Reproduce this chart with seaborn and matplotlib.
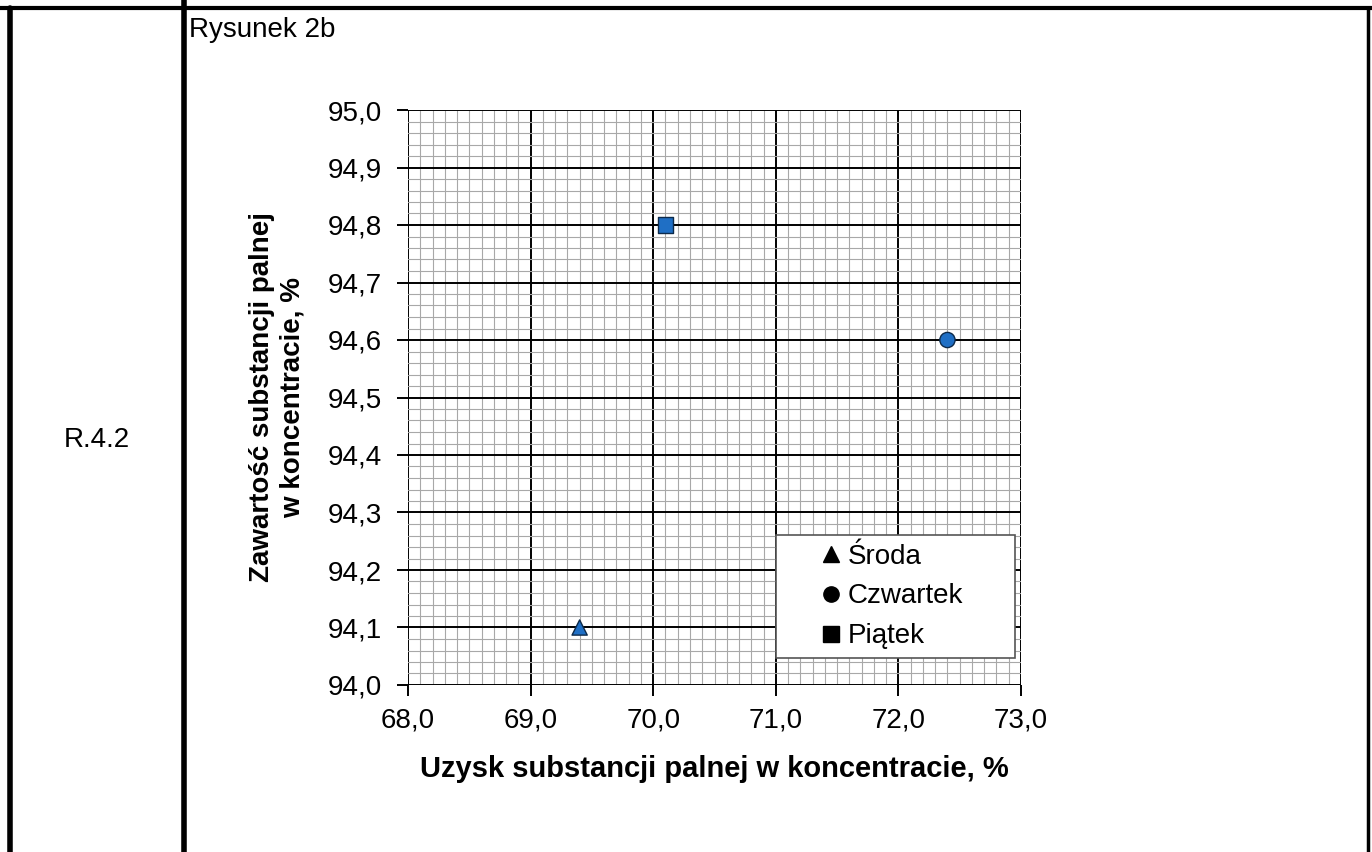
import numpy as np
import pandas as pd
import matplotlib.pyplot as plt
import seaborn as sns
from matplotlib.lines import Line2D
from matplotlib.patches import Rectangle
from matplotlib.ticker import MultipleLocator, FuncFormatter

sns.set_theme(style="white")
plt.rcParams['font.family'] = ['Liberation Sans', 'DejaVu Sans']
plt.rcParams.update({'text.color': 'black', 'axes.labelcolor': 'black',
                     'xtick.color': 'black', 'ytick.color': 'black'})

# dane
days = ['Środa', 'Czwartek', 'Piątek']
uzysk = [69.4, 72.4, 70.1]
zawartosc = [94.1, 94.6, 94.8]
markers = {'Środa': '^', 'Czwartek': 'o', 'Piątek': 's'}

df = pd.DataFrame({'dzien': days, 'uzysk': uzysk, 'zawartosc': zawartosc})

fig = plt.figure(figsize=(13.72, 8.52), dpi=100)
ax = fig.add_axes([408 / 1372, 1 - 685 / 852, 613 / 1372, 575 / 852])

# ramka tabeli
for xs, ys, lw in [([10 / 1372] * 2, [0, 1 - 8 / 852], 4),
                   ([184 / 1372] * 2, [0, 1], 4),
                   ([1368 / 1372] * 2, [0, 1 - 8 / 852], 2.5),
                   ([0, 1], [1 - 8 / 852] * 2, 3)]:
    fig.add_artist(Line2D(xs, ys, color='black', lw=lw, transform=fig.transFigure))

fig.text(189 / 1372, 1 - 30 / 852, 'Rysunek 2b', fontsize=20, va='center', ha='left')
fig.text(97 / 1372, 1 - 440 / 852, 'R.4.2', fontsize=20, va='center', ha='center')

sns.scatterplot(data=df, x='uzysk', y='zawartosc', style='dzien', markers=markers,
                color='#1f6fc5', edgecolor='#0d2a4a', linewidth=1.0, s=120,
                ax=ax, legend=False, zorder=5)

ax.set_xlim(68, 73)
ax.set_ylim(94.0, 95.0)
ax.xaxis.set_major_locator(MultipleLocator(1))
ax.xaxis.set_minor_locator(MultipleLocator(0.1))
ax.yaxis.set_major_locator(MultipleLocator(0.1))
ax.yaxis.set_minor_locator(MultipleLocator(0.02))
fmt = FuncFormatter(lambda v, p: f'{v:.1f}'.replace('.', ','))
ax.xaxis.set_major_formatter(fmt)
ax.yaxis.set_major_formatter(fmt)

ax.grid(which='minor', color='#a8a8a8', lw=0.8)
ax.grid(which='major', color='black', lw=1.4)
ax.set_axisbelow(True)
for sp in ax.spines.values():
    sp.set_visible(False)
ax.tick_params(which='major', direction='out', length=8, width=1.4, color='black',
               labelsize=20, bottom=True, left=True)
ax.tick_params(axis='y', which='major', pad=11)
ax.tick_params(axis='x', which='major', pad=8)
ax.tick_params(which='minor', length=0)

ax.set_xlabel('Uzysk substancji palnej w koncentracie, %', fontsize=21,
              fontweight='bold', labelpad=16)
ax.set_ylabel('Zawartość substancji palnej\nw koncentracie, %', fontsize=20,
              fontweight='bold', labelpad=16)

# ramka legendy
ax.add_patch(Rectangle((0.6, 0.047), 0.39, 0.214, transform=ax.transAxes,
                       facecolor='white', edgecolor='#555555', lw=1.2, zorder=8))
handles = [Line2D([], [], marker=markers[d], color='black', ls='', markersize=11)
           for d in days]
leg = ax.legend(handles, days, loc='center left', bbox_to_anchor=(0.677, 0.154),
                borderaxespad=0, frameon=False, fontsize=20, handlelength=0.6,
                handletextpad=0.3, labelspacing=0.5, borderpad=0)
leg.set_zorder(10)

fig.savefig('out.png', dpi=100)
